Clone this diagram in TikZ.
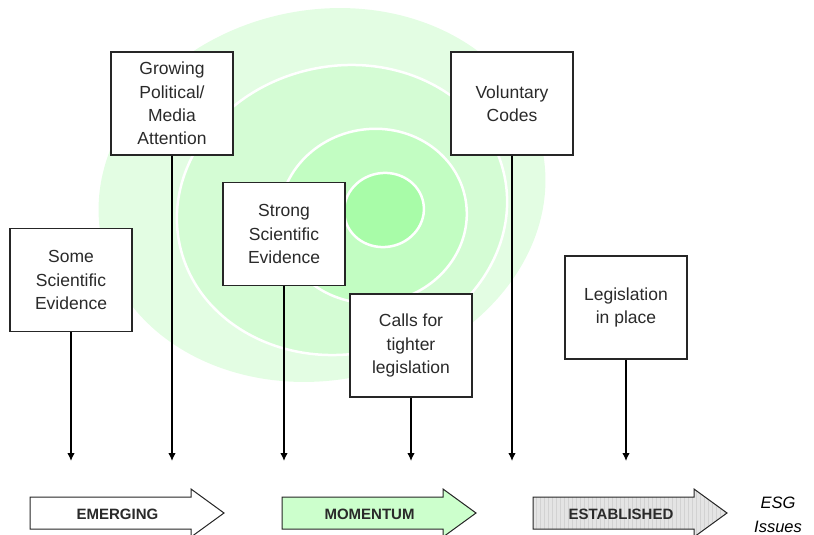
\documentclass[tikz,border=0pt]{standalone}
\usepackage{fontspec}
\setmainfont{Liberation Sans}
\usetikzlibrary{arrows.meta}
\definecolor{gA}{HTML}{E3FDE3}
\definecolor{gB}{HTML}{D4FCD4}
\definecolor{gC}{HTML}{C2FDC2}
\definecolor{gD}{HTML}{A8FCA8}
\definecolor{mom}{HTML}{CCFFCC}
\definecolor{est}{HTML}{E4E4E4}
\definecolor{estgrid}{HTML}{D2D2D2}
\definecolor{txt}{HTML}{2A2A2A}
\begin{document}
\begin{tikzpicture}[x=1pt,y=-1pt,
  box/.style={draw=black!85, line width=1.1pt, fill=white, minimum width=122pt,
    minimum height=103pt, inner sep=0pt, align=center,
    font=\fontsize{17.5}{23.3}\selectfont, text=txt},
  conn/.style={draw=black, line width=1.2pt, -{Latex[length=8pt,width=7.5pt]}},
  blk/.style={draw=black!85, line width=1pt},
  lbl/.style={font=\bfseries\fontsize{15}{18}\selectfont, text=txt},
  ring/.style={draw=white, line width=2.5pt}]
\useasboundingbox (0,0) rectangle (814,535);
% background target
\fill[gA, rotate around={12:(322,195)}] (322,195) ellipse [x radius=225, y radius=185];
\filldraw[gB, ring, rotate around={12:(342,210)}] (342,210) ellipse [x radius=166, y radius=144];
\filldraw[gC, ring, rotate around={10:(373,216)}] (373,216) ellipse [x radius=94, y radius=87];
\filldraw[gD, ring, rotate around={10:(384,210)}] (384,210) ellipse [x radius=40, y radius=37];
% boxes
\node[box] (some)   at (71,280)    {Some\\Scientific\\Evidence};
\node[box] (grow)   at (172,103.5) {Growing\\Political/\\Media\\Attention};
\node[box] (strong) at (284,234)   {Strong\\Scientific\\Evidence};
\node[box] (calls)  at (411,345.5) {Calls for\\tighter\\legislation};
\node[box] (vol)    at (512,103.5) {Voluntary\\Codes};
\node[box] (leg)    at (626,307.5) {Legislation\\in place};
% arrow tips
\coordinate (e1) at (71,461);
\coordinate (e2) at (172,461);
\coordinate (e3) at (284,461);
\coordinate (e4) at (411,461);
\coordinate (e5) at (512,461);
\coordinate (e6) at (626,461);
\draw[conn] (some.south) -- (e1);
\draw[conn] (grow.south) -- (e2);
\draw[conn] (strong.south) -- (e3);
\draw[conn] (calls.south) -- (e4);
\draw[conn] (vol.south) -- (e5);
\draw[conn] (leg.south) -- (e6);
% block arrows
\filldraw[blk, fill=white] (30,497) -- (191,497) -- (191,489) -- (224,513) -- (191,537) -- (191,529) -- (30,529) -- cycle;
\filldraw[blk, fill=mom] (282,497) -- (443,497) -- (443,489) -- (476,513) -- (443,537) -- (443,529) -- (282,529) -- cycle;
\fill[est] (533,497) -- (694,497) -- (694,489) -- (727,513) -- (694,537) -- (694,529) -- (533,529) -- cycle;
\begin{scope}
  \clip (533,497) -- (694,497) -- (694,489) -- (727,513) -- (694,537) -- (694,529) -- (533,529) -- cycle;
  \draw[estgrid, line width=0.4pt, step=4] (530,486) grid (730,540);
\end{scope}
\draw[blk] (533,497) -- (694,497) -- (694,489) -- (727,513) -- (694,537) -- (694,529) -- (533,529) -- cycle;
\node[lbl] (emerg) at (117.5,514) {EMERGING};
\node[lbl] (momen) at (369.5,514) {MOMENTUM};
\node[lbl] (estab) at (621,514) {ESTABLISHED};
\node[align=center, font=\itshape\fontsize{16.5}{24}\selectfont, text=black] (esg) at (778,515) {ESG\\Issues};
\end{tikzpicture}
\end{document}
